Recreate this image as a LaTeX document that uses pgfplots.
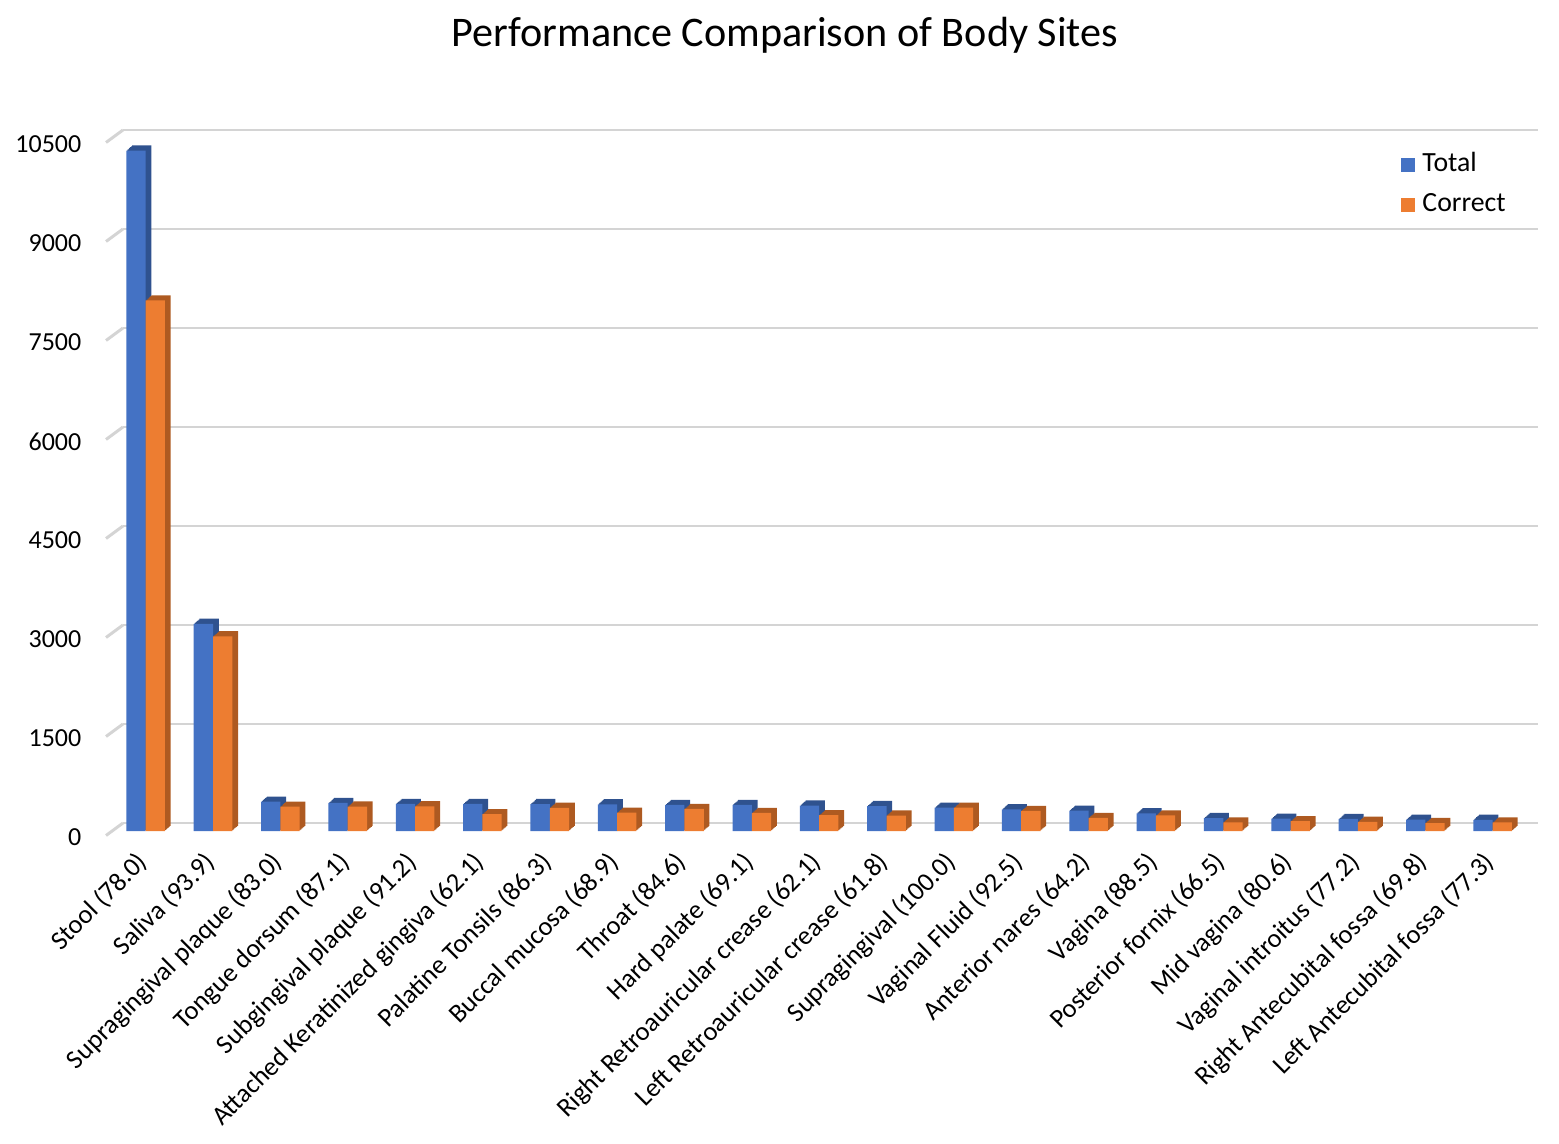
\documentclass[border=0pt]{standalone}
\usepackage{fontspec}
\setmainfont{Carlito}
\usepackage{pgfplots}
\pgfplotsset{compat=1.18}
\usepackage{pgfplotstable}
\definecolor{cblue}{HTML}{4472C4}
\definecolor{corange}{HTML}{ED7D31}
\definecolor{cblueside}{HTML}{2F528F}
\definecolor{corangeside}{HTML}{AE5A21}
\definecolor{cgrid}{HTML}{D4D4D4}
\pgfplotstableread{
x total correct
0 10310 8040
1 3140 2950
2 445 369
3 425 370
4 410 374
5 410 255
6 408 352
7 404 278
8 395 334
9 395 273
10 385 239
11 378 234
12 353 353
13 329 304
14 308 198
15 268 237
16 197 131
17 186 150
18 182 140
19 172 120
20 170 131
}\data
\begin{document}
\begin{tikzpicture}
\useasboundingbox (0,0) rectangle (15.59cm,11.43cm);
\node[font=\fontsize{12}{14}\selectfont] at (7.85cm,11.08cm) {Performance Comparison of Body Sites};
\begin{axis}[
  at={(1.23cm,3.12cm)}, anchor=south west, scale only axis,
  width=14.15cm, height=6.93cm,
  xmin=-0.337, xmax=20.673, ymin=0, ymax=10500,
  clip=false,
  ytick={0,1500,3000,4500,6000,7500,9000,10500},
  scaled y ticks=false,
  xtick={0,...,20},
  xticklabels={Stool (78.0),Saliva (93.9),Supragingival plaque (83.0),Tongue dorsum (87.1),Subgingival plaque (91.2),Attached Keratinized gingiva (62.1),Palatine Tonsils (86.3),Buccal mucosa (68.9),Throat (84.6),Hard palate (69.1),Right Retroauricular crease (62.1),Left Retroauricular crease (61.8),Supragingival (100.0),Vaginal Fluid (92.5),Anterior nares (64.2),Vagina (88.5),Posterior fornix (66.5),Mid vagina (80.6),Vaginal introitus (77.2),Right Antecubital fossa (69.8),Left Antecubital fossa (77.3)},
  ymajorgrids, grid style={color=cgrid, line width=0.85pt, yshift=0.08cm},
  axis line style={draw=none}, tick style={draw=none},
  yticklabel style={font=\fontsize{7.4}{9}\selectfont, inner sep=0pt, anchor=east, xshift=-0.41cm, yshift=-0.065cm},
  /pgf/number format/.cd, fixed, 1000 sep={}, assume math mode=true, /pgfplots/.cd,
  xticklabel style={font=\fontsize{7.55}{9}\selectfont, xshift=-0.107cm, yshift=-0.18cm, rotate=45, anchor=north east, inner sep=0pt},
  legend style={at={(0.9005,0.995)}, anchor=north west, draw=none, fill=none, font=\fontsize{7.9}{9}\selectfont, row sep=0.6pt, inner sep=1pt, cells={anchor=west}},
  legend image code/.code={\fill[#1] (0cm,-0.07cm) rectangle (0.14cm,0.07cm);},
]
\pgfplotsinvokeforeach{0,1500,3000,4500,6000,7500,9000,10500}{
\draw[cgrid, line width=0.85pt] ([xshift=-0.17cm,yshift=-0.045cm]axis cs:-0.337,#1) -- ([yshift=0.08cm]axis cs:-0.337,#1);
}
\pgfplotsinvokeforeach{1,2,3,4,5,6}{
\addplot[ybar, bar width=0.193cm, bar shift=-0.0965cm, fill=cblueside, draw=none, xshift=#1*0.0095cm, yshift=#1*0.0085cm, forget plot] table[x=x,y=total]{\data};
}
\addplot[ybar, bar width=0.193cm, bar shift=-0.0965cm, fill=cblue, draw=none] table[x=x,y=total]{\data};
\addlegendentry{Total}
\pgfplotsinvokeforeach{1,2,3,4,5,6}{
\addplot[ybar, bar width=0.193cm, bar shift=0.0965cm, fill=corangeside, draw=none, xshift=#1*0.0095cm, yshift=#1*0.0085cm, forget plot] table[x=x,y=correct]{\data};
}
\addplot[ybar, bar width=0.193cm, bar shift=0.0965cm, fill=corange, draw=none] table[x=x,y=correct]{\data};
\addlegendentry{Correct}
\end{axis}
\end{tikzpicture}
\end{document}
